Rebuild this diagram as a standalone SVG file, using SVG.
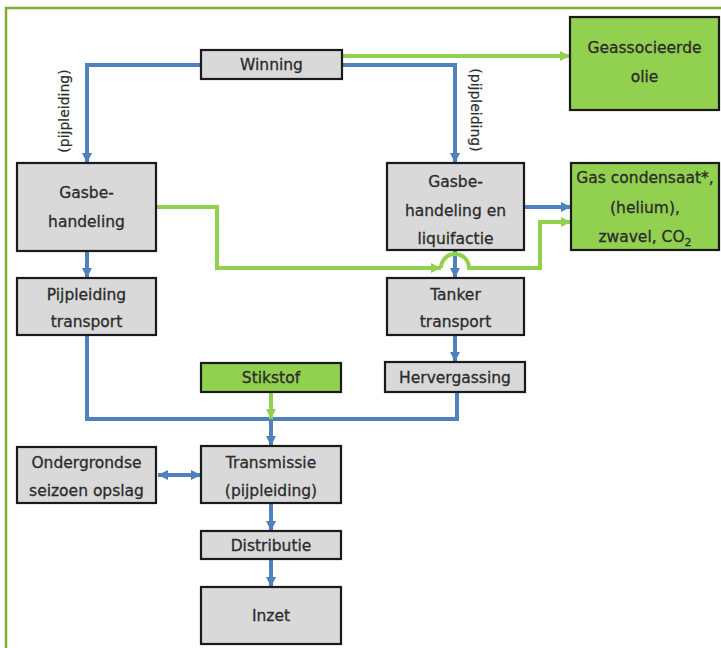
<svg xmlns="http://www.w3.org/2000/svg" width="721" height="648" viewBox="0 0 721 648">
  <style>
    .box { stroke: #1a1a1a; stroke-width: 2.2; }
    .grey { fill: #d9d9d9; }
    .green { fill: #92d050; }
    .lbl { font-family: "DejaVu Sans", "Liberation Sans", sans-serif; font-size: 15.5px; fill: #2b2b2b; stroke: #2b2b2b; stroke-width: 0.3; text-anchor: middle; }
    .side { font-family: "DejaVu Sans", "Liberation Sans", sans-serif; font-size: 14px; fill: #2b2b2b; stroke: #2b2b2b; stroke-width: 0.2; text-anchor: middle; }
    .blue-line { fill: none; stroke: #4f81bd; stroke-width: 4; }
    .green-line { fill: none; stroke: #92d050; stroke-width: 4; }
  </style>
  <defs>
    <marker id="ab" viewBox="0 0 10 10" refX="10" refY="5" markerWidth="10" markerHeight="12" markerUnits="userSpaceOnUse" orient="auto-start-reverse">
      <path d="M0,0 L10,5 L0,10 z" fill="#4f81bd"/>
    </marker>
    <marker id="ag" viewBox="0 0 10 10" refX="10" refY="5" markerWidth="10" markerHeight="12" markerUnits="userSpaceOnUse" orient="auto">
      <path d="M0,0 L10,5 L0,10 z" fill="#92d050"/>
    </marker>
  </defs>

  <rect width="721" height="648" fill="#ffffff"/>
  <!-- outer frame -->
  <rect x="6" y="8" width="740" height="660" fill="none" stroke="#7fad3a" stroke-width="2.5"/>

  <!-- connectors -->
  <g id="connectors">
    <path class="blue-line" d="M201,65 H87 V163" marker-end="url(#ab)"/>
    <path class="blue-line" d="M342,65 H455 V163" marker-end="url(#ab)"/>
    <path class="blue-line" d="M87,251 V278" marker-end="url(#ab)"/>
    <path class="blue-line" d="M455,250 V278" marker-end="url(#ab)"/>
    <path class="blue-line" d="M524,207 H571" marker-end="url(#ab)"/>
    <path class="blue-line" d="M455,335 V362" marker-end="url(#ab)"/>
    <path class="blue-line" d="M87,335 V419 H457 V392"/>
    <path class="blue-line" d="M271,419 V446" marker-end="url(#ab)"/>
    <path class="blue-line" d="M158,475 H201" marker-start="url(#ab)" marker-end="url(#ab)"/>
    <path class="blue-line" d="M271,503 V531" marker-end="url(#ab)"/>
    <path class="blue-line" d="M271,559 V587" marker-end="url(#ab)"/>

    <path class="green-line" d="M342,56 H570" marker-end="url(#ag)"/>
    <path class="green-line" d="M271,392 V419" marker-end="url(#ag)"/>
    <path class="green-line" d="M156,207 H217 V268 H441" marker-end="url(#ag)"/>
    <path class="green-line" d="M441,268 A14,14 0 0 1 469,268 H540 V222 H571" marker-end="url(#ag)"/>

    <text class="side" transform="translate(69,111) rotate(-90)">(pijpleiding)</text>
    <text class="side" transform="translate(471,110) rotate(90)">(pijpleiding)</text>
  </g>

  <!-- nodes -->
  <g id="winning">
    <rect class="box grey" x="201" y="50" width="141" height="29"/>
    <text class="lbl" x="271.5" y="70">Winning</text>
  </g>
  <g id="geassocieerde-olie">
    <rect class="box green" x="570" y="17" width="149" height="93"/>
    <text class="lbl" x="644.5" y="53">Geassocieerde</text>
    <text class="lbl" x="644.5" y="82">olie</text>
  </g>
  <g id="gasbehandeling">
    <rect class="box grey" x="17" y="163" width="139" height="88"/>
    <text class="lbl" x="86.5" y="198">Gasbe-</text>
    <text class="lbl" x="86.5" y="227">handeling</text>
  </g>
  <g id="gasbehandeling-liquifactie">
    <rect class="box grey" x="387" y="163" width="137" height="87"/>
    <text class="lbl" x="455.5" y="187">Gasbe-</text>
    <text class="lbl" x="455.5" y="216">handeling en</text>
    <text class="lbl" x="455.5" y="244">liquifactie</text>
  </g>
  <g id="gas-condensaat">
    <rect class="box green" x="571" y="163" width="148" height="87"/>
    <text class="lbl" x="645" y="183">Gas condensaat*,</text>
    <text class="lbl" x="645" y="213">(helium),</text>
    <text class="lbl" x="645" y="242">zwavel, CO<tspan font-size="11px" dy="4">2</tspan></text>
  </g>
  <g id="pijpleiding-transport">
    <rect class="box grey" x="17" y="278" width="139" height="57"/>
    <text class="lbl" x="86.5" y="300">Pijpleiding</text>
    <text class="lbl" x="86.5" y="327">transport</text>
  </g>
  <g id="tanker-transport">
    <rect class="box grey" x="387" y="278" width="137" height="57"/>
    <text class="lbl" x="455.5" y="300">Tanker</text>
    <text class="lbl" x="455.5" y="327">transport</text>
  </g>
  <g id="stikstof">
    <rect class="box green" x="201" y="363" width="140" height="29"/>
    <text class="lbl" x="271" y="383">Stikstof</text>
  </g>
  <g id="hervergassing">
    <rect class="box grey" x="385" y="362" width="140" height="30"/>
    <text class="lbl" x="455" y="383">Hervergassing</text>
  </g>
  <g id="ondergrondse-opslag">
    <rect class="box grey" x="17" y="447" width="139" height="56"/>
    <text class="lbl" x="86.5" y="468">Ondergrondse</text>
    <text class="lbl" x="86.5" y="496">seizoen opslag</text>
  </g>
  <g id="transmissie">
    <rect class="box grey" x="201" y="446" width="140" height="57"/>
    <text class="lbl" x="271" y="468">Transmissie</text>
    <text class="lbl" x="271" y="496">(pijpleiding)</text>
  </g>
  <g id="distributie">
    <rect class="box grey" x="201" y="531" width="140" height="28"/>
    <text class="lbl" x="271" y="551">Distributie</text>
  </g>
  <g id="inzet">
    <rect class="box grey" x="201" y="587" width="140" height="57"/>
    <text class="lbl" x="271" y="621">Inzet</text>
  </g>
</svg>
